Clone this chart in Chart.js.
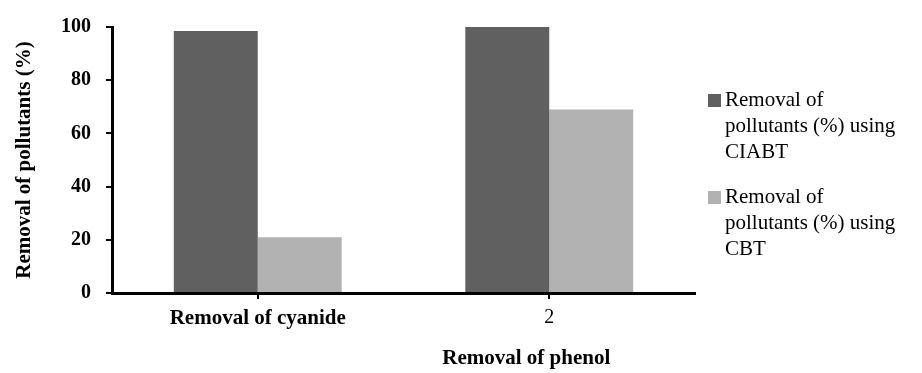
<!DOCTYPE html>
<html>
<head>
<meta charset="utf-8">
<script src="https://cdn.jsdelivr.net/npm/chart.js@4"></script>
<style>
  body { margin: 0; background: #fff; }
  #wrap { position: relative; width: 922px; height: 373px; }
  #legend { position: absolute; left: 708px; top: 86px; font-family: 'Liberation Serif', serif; font-size: 21px; line-height: 26px; color: #000; }
  .item { display: flex; align-items: flex-start; margin-bottom: 19px; }
  .box { width: 13px; height: 13px; margin-top: 8px; margin-right: 4px; flex: none; }
</style>
</head>
<body>
<div id="wrap">
  <canvas id="barChart"></canvas>
  <div id="legend"></div>
</div>
<script>
const categories = ['Removal of cyanide', '2'];
const ciabtValues = [98.5, 100];
const cbtValues = [21, 69];
const yTicks = [0, 20, 40, 60, 80, 100];
const seriesNames = ['Removal of pollutants (%) using CIABT', 'Removal of pollutants (%) using CBT'];
const legendLines = [
  ['Removal of', 'pollutants (%) using', 'CIABT'],
  ['Removal of', 'pollutants (%) using', 'CBT'],
];
const xTitle = 'Removal of phenol';
const colors = ['#606060', '#b2b2b2'];
const serif = "'Liberation Serif', 'Times New Roman', serif";

// extra x-axis title, sits under the second category
const phenolTitle = {
  id: 'phenolTitle',
  afterDraw(chart) {
    let ctx = chart.ctx;
    let x = chart.scales.x.getPixelForValue(1) - 23;
    ctx.save();
    ctx.font = 'bold 21px ' + serif;
    ctx.fillStyle = '#000';
    ctx.textAlign = 'center';
    ctx.textBaseline = 'middle';
    ctx.fillText(xTitle, x, chart.chartArea.bottom + 66);
    ctx.restore();
  },
};

let ctxB = document.getElementById('barChart').getContext('2d');
let myBarChart = new Chart(ctxB, {
  type: 'bar',
  data: {
    labels: categories,
    datasets: [
      { label: seriesNames[0], data: ciabtValues, backgroundColor: colors[0] },
      { label: seriesNames[1], data: cbtValues, backgroundColor: colors[1] },
    ],
  },
  options: {
    responsive: true,
    maintainAspectRatio: false,
    animation: false,
    layout: { padding: { left: 0, top: 23, right: 227, bottom: 0 } },
    plugins: { legend: { display: false }, tooltip: { enabled: false } },
    datasets: { bar: { categoryPercentage: 0.576, barPercentage: 1 } },
    scales: {
      x: {
        afterFit: (scale) => { scale.height = 80; },
        grid: { display: true, drawOnChartArea: false, offset: false, tickLength: 6, color: '#000', lineWidth: 2 },
        border: { display: true, color: '#000', width: 3 },
        ticks: {
          color: '#000',
          padding: 7,
          maxRotation: 0,
          font: (c) => ({ family: serif, size: c.index === 0 ? 21 : 20, weight: c.index === 0 ? 'bold' : 'normal' }),
        },
      },
      y: {
        min: 0,
        max: 100,
        afterFit: (scale) => { scale.width = 112; },
        afterBuildTicks: (scale) => { scale.ticks = yTicks.map((v) => ({ value: v })); },
        grid: { display: true, drawOnChartArea: false, tickLength: 6, color: '#000', lineWidth: 2 },
        border: { display: true, color: '#000', width: 3 },
        ticks: { color: '#000', padding: 15, font: { family: serif, size: 20, weight: 'bold' } },
        title: {
          display: true,
          text: 'Removal of pollutants (%)',
          color: '#000',
          padding: { top: 12, bottom: 0 },
          font: { family: serif, size: 21, weight: 'bold' },
        },
      },
    },
  },
  plugins: [phenolTitle],
});

// legend as html so the labels can wrap like the original
let legendEl = document.getElementById('legend');
myBarChart.data.datasets.forEach((ds, i) => {
  let item = document.createElement('div');
  item.className = 'item';
  let box = document.createElement('div');
  box.className = 'box';
  box.style.background = ds.backgroundColor;
  let txt = document.createElement('div');
  txt.innerHTML = legendLines[i].join('<br>');
  item.appendChild(box);
  item.appendChild(txt);
  legendEl.appendChild(item);
});
</script>
</body>
</html>
